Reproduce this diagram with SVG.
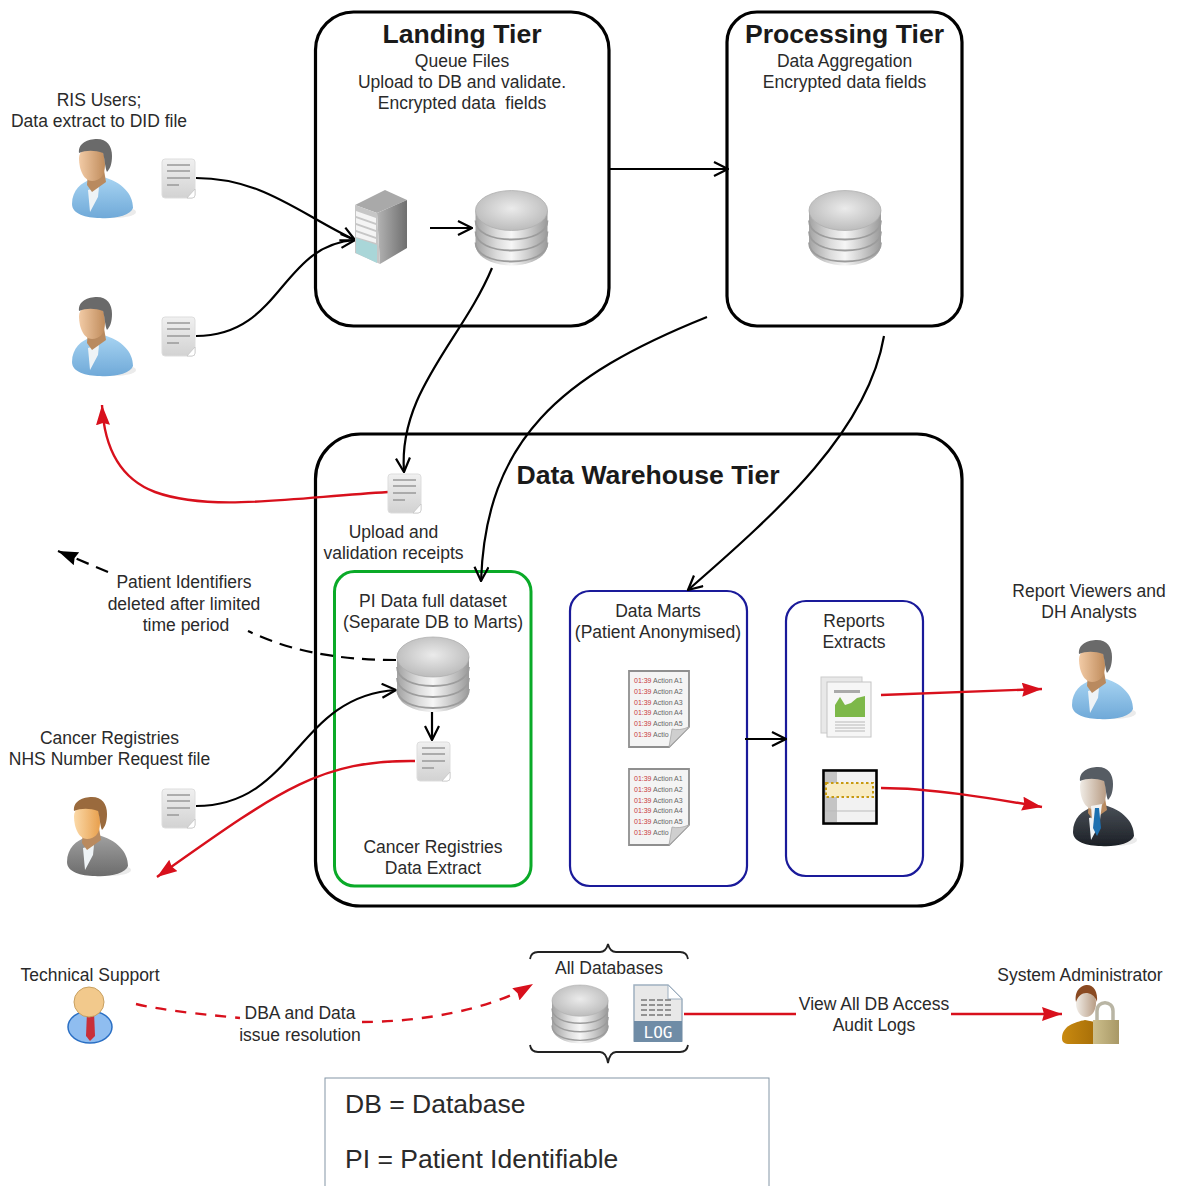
<svg xmlns="http://www.w3.org/2000/svg" width="1178" height="1186" viewBox="0 0 1178 1186">
<style>
text{font-family:"Liberation Sans",Arial,sans-serif;fill:#2a2a2a}
.t{font-size:17.5px;text-anchor:middle}
.h{font-size:26.6px;font-weight:bold;text-anchor:middle;fill:#1a1a1a}
.leg{font-size:26.5px;fill:#2a2a2a}
.tier{fill:#fff;stroke:#000;stroke-width:3.2}
.blue{fill:none;stroke:#1a1a9a;stroke-width:2.2}
.c{fill:none;stroke:#000;stroke-width:2.2}
.r{fill:none;stroke:#d8101c;stroke-width:2.400}
.rd{fill:none;stroke:#d8101c;stroke-width:2.400;stroke-dasharray:11 9}
.k{fill:none;stroke:#000;stroke-width:2.200;stroke-dasharray:13 8}
.br{fill:none;stroke:#222;stroke-width:1.8}
.m{font-size:7px}
.mr{fill:#c8383c}
.mg{fill:#666}
.icon{filter:url(#soft)}
</style>
<defs>
<linearGradient id="gBlue" x1="0" y1="0" x2="0" y2="1"><stop offset="0" stop-color="#a8d4f2"/><stop offset="1" stop-color="#6fa9d8"/></linearGradient>
<linearGradient id="gGrey" x1="0" y1="0" x2="0" y2="1"><stop offset="0" stop-color="#a0a0a0"/><stop offset="1" stop-color="#6c6c6c"/></linearGradient>
<linearGradient id="gSuit" x1="0" y1="0" x2="0" y2="1"><stop offset="0" stop-color="#4a5058"/><stop offset="1" stop-color="#1c2026"/></linearGradient>
<linearGradient id="gFace" x1="0" y1="0" x2="1" y2="0"><stop offset="0" stop-color="#f2cba6"/><stop offset="1" stop-color="#c08c5c"/></linearGradient>
<linearGradient id="gFace2" x1="0" y1="0" x2="1" y2="0"><stop offset="0" stop-color="#fbd9a8"/><stop offset="1" stop-color="#e8a04e"/></linearGradient>
<linearGradient id="gFace3" x1="0" y1="0" x2="1" y2="0"><stop offset="0" stop-color="#f0ece6"/><stop offset="1" stop-color="#b89c84"/></linearGradient>
<linearGradient id="gDb" x1="0" y1="0" x2="1" y2="0"><stop offset="0" stop-color="#a2a2a2"/><stop offset=".3" stop-color="#dcdcdc"/><stop offset=".5" stop-color="#f6f6f6"/><stop offset=".72" stop-color="#cfcfcf"/><stop offset="1" stop-color="#9a9a9a"/></linearGradient>
<radialGradient id="gDbTop" cx=".5" cy=".45" r=".6"><stop offset="0" stop-color="#ebebeb"/><stop offset="1" stop-color="#b8b8b8"/></radialGradient>
<linearGradient id="gDoc" x1="0" y1="0" x2="0" y2="1"><stop offset="0" stop-color="#f0f0f0"/><stop offset="1" stop-color="#d2d2d2"/></linearGradient>
<linearGradient id="gSrv" x1="0" y1="0" x2="1" y2="0"><stop offset="0" stop-color="#b4b4b4"/><stop offset="1" stop-color="#6e6e6e"/></linearGradient>
<linearGradient id="gLock" x1="0" y1="0" x2="1" y2="0"><stop offset="0" stop-color="#cdbf8c"/><stop offset="1" stop-color="#a89866"/></linearGradient>
<linearGradient id="gOr" x1="0" y1="0" x2="1" y2="0"><stop offset="0" stop-color="#c98a10"/><stop offset="1" stop-color="#a86f08"/></linearGradient>
<filter id="soft" x="-10%" y="-10%" width="120%" height="120%"><feGaussianBlur stdDeviation=".5"/></filter>
<marker id="open" viewBox="0 0 16 16" refX="15" refY="8" markerWidth="16" markerHeight="16" markerUnits="userSpaceOnUse" orient="auto"><path d="M1,1 L15,8 L1,15" fill="none" stroke="#000" stroke-width="2.200"/></marker>
<marker id="red" viewBox="0 0 20 14" refX="20" refY="7" markerWidth="20" markerHeight="14" markerUnits="userSpaceOnUse" orient="auto"><path d="M0,0 L20,7 L0,14 L2,7 Z" fill="#d8101c"/></marker>
<marker id="blk" viewBox="0 0 20 14" refX="20" refY="7" markerWidth="20" markerHeight="14" markerUnits="userSpaceOnUse" orient="auto"><path d="M0,0 L20,7 L0,14 L2,7 Z" fill="#000"/></marker>
<g id="person">
<ellipse cx="114" cy="212" rx="22" ry="6" fill="#e2e2e2" opacity=".7"/>
<path d="M72,204 C72,190 82,182 90,180 L103,177 C122,182 133,194 133,208 C130,216 114,219 100,218 C86,218 72,214 72,204Z" style="fill:var(--body)"/>
<path d="M88,190 L99,187 L98,197 L90,212 Z" fill="#eef3f6"/>
<path d="M88,172 L104,170 L106,182 L92,192 L87,185Z" fill="#b98a5e"/>
<path d="M79,158 C79,150 87,147 95,147 C103,147 105,156 105,165 C105,176 99,181 92,181 C84,181 79,170 79,158Z" style="fill:var(--face)"/>
<path d="M79,153 C78,143 88,139 97,139 C107,139 112,146 112,156 C112,164 110,169 107,172 C105,168 105,160 103,153 C95,150 86,150 79,153Z" style="fill:var(--hair)"/>
</g>
<g id="doc">
<rect x="0" y="0" width="33" height="39" rx="3" fill="url(#gDoc)" stroke="#ddd"/>
<path d="M5,6H28M5,12H28M5,19H28M5,26H17" stroke="#999" stroke-width="1.3"/>
<path d="M33,30 L33,36 Q33,39 30,39 L25,39 Z" fill="#fff" stroke="#bbb" stroke-width=".6"/>
</g>
<g id="db">
<path d="M0,20 V54 C0,66 16,75 36,75 C56,75 72,66 72,54 V20 Z" fill="url(#gDb)"/>
<path d="M0,30 C0,42 16,49 36,49 C56,49 72,42 72,30 M0,41 C0,53 16,60 36,60 C56,60 72,53 72,41 M0,52 C0,64 16,71 36,71 C56,71 72,64 72,52" fill="none" stroke="#9c9c9c" stroke-width="1.800"/>
<ellipse cx="36" cy="20" rx="36" ry="20" fill="url(#gDbTop)" stroke="#b0b0b0" stroke-width=".8"/>
</g>
<g id="mdoc">
<path d="M0,0 H60 V56 L40,76 H0 Z" fill="#f4f4f4" stroke="#8f8f8f" stroke-width="1.800"/>
<path d="M40,76 L43,58 Q50,60 60,56 Z" fill="#cfcfcf" stroke="#aaa" stroke-width=".8"/>
<text class="m" x="5" y="12"><tspan class="mr">01:39</tspan><tspan class="mg"> Action A1</tspan></text>
<text class="m" x="5" y="23"><tspan class="mr">01:39</tspan><tspan class="mg"> Action A2</tspan></text>
<text class="m" x="5" y="34"><tspan class="mr">01:39</tspan><tspan class="mg"> Action A3</tspan></text>
<text class="m" x="5" y="44"><tspan class="mr">01:39</tspan><tspan class="mg"> Action A4</tspan></text>
<text class="m" x="5" y="55"><tspan class="mr">01:39</tspan><tspan class="mg"> Action A5</tspan></text>
<text class="m" x="5" y="66"><tspan class="mr">01:39</tspan><tspan class="mg"> Actio</tspan></text>
</g>
</defs>
<rect width="1178" height="1186" fill="#fff"/>

<g id="landing-tier">
<rect class="tier" x="315.500" y="12" width="293.500" height="314" rx="38"/>
<text class="h" x="462" y="42.500">Landing Tier</text>
<text class="t" x="462" y="67">Queue Files</text>
<text class="t" x="462" y="88">Upload to DB and validate.</text>
<text class="t" x="462" y="109" xml:space="preserve">Encrypted data  fields</text>
</g>
<g id="processing-tier">
<rect class="tier" x="727" y="12" width="235" height="314" rx="30"/>
<text class="h" x="844.500" y="42.500">Processing Tier</text>
<text class="t" x="844.500" y="67">Data Aggregation</text>
<text class="t" x="844.500" y="88">Encrypted data fields</text>
</g>
<g id="warehouse-tier">
<rect class="tier" x="315.500" y="434" width="646.500" height="472" rx="45"/>
<text class="h" x="648" y="483.500">Data Warehouse Tier</text>
</g>
<g id="pi-box">
<rect x="334.500" y="571.500" width="196.500" height="314.500" rx="20" fill="none" stroke="#0aaa28" stroke-width="3"/>
<text class="t" x="433" y="607">PI Data full dataset</text>
<text class="t" x="433" y="628">(Separate DB to Marts)</text>
<text class="t" x="433" y="853">Cancer Registries</text>
<text class="t" x="433" y="874">Data Extract</text>
</g>
<g id="marts-box">
<rect class="blue" x="570" y="591" width="177" height="295" rx="20"/>
<text class="t" x="658" y="617">Data Marts</text>
<text class="t" x="658" y="638">(Patient Anonymised)</text>
</g>
<g id="reports-box">
<rect class="blue" x="786" y="601" width="137" height="275" rx="20"/>
<text class="t" x="854" y="627">Reports</text>
<text class="t" x="854" y="648">Extracts</text>
</g>

<g id="connectors">
<path class="c" marker-end="url(#open)" d="M196,178 C262,178 300,214 355,240"/>
<path class="c" marker-end="url(#open)" d="M196,336 C282,336 280,245 355,240"/>
<path class="c" marker-end="url(#open)" d="M430,228 H472"/>
<path class="c" marker-end="url(#open)" d="M609,169 H728"/>
<path class="c" marker-end="url(#open)" d="M492,268 C462,340 398,392 404,472"/>
<path class="c" marker-end="url(#open)" d="M707,317 C560,376 486,440 481,581"/>
<path class="c" marker-end="url(#open)" d="M884,336 C868,430 780,510 688,590"/>
<path class="r" marker-end="url(#red)" d="M388,492 C290,498 210,512 155,492 C118,478 104,445 102,405"/>
<path class="k" d="M396,660 C340,660 292,652 248,631"/>
<path class="k" marker-end="url(#blk)" d="M108,572 L58,551"/>
<path class="c" marker-end="url(#open)" d="M196,806 C296,806 296,696 396,690"/>
<path class="c" marker-end="url(#open)" d="M432,712 V740"/>
<path class="r" marker-end="url(#red)" d="M415,761 C320,760 280,790 157,877"/>
<path class="c" marker-end="url(#open)" d="M745,739 H786"/>
<path class="r" marker-end="url(#red)" d="M881,695 L1042,689"/>
<path class="r" marker-end="url(#red)" d="M881,788 C930,788 990,798 1042,807"/>
<path class="rd" d="M136,1004 C165,1011 210,1015 240,1018"/>
<path class="rd" marker-end="url(#red)" d="M362,1022 C420,1022 490,1010 533,984"/>
<path class="r" d="M684,1014 H796"/>
<path class="r" marker-end="url(#red)" d="M951,1014 H1062"/>
</g>

<g id="ris-user-1">
<use class="icon" href="#person" style="--body:url(#gBlue);--face:url(#gFace);--hair:#6b6b6b"/>
<use class="icon" href="#doc" x="162" y="159"/>
<text class="t" x="99" y="106">RIS Users;</text>
<text class="t" x="99" y="127">Data extract to DID file</text>
</g>
<g id="ris-user-2">
<use class="icon" href="#person" y="158" style="--body:url(#gBlue);--face:url(#gFace);--hair:#6b6b6b"/>
<use class="icon" href="#doc" x="162" y="317"/>
</g>
<g id="server" class="icon">
<path d="M355,205 L385,190 L407,200 L377,213 Z" fill="#a9a9a9"/>
<path d="M377,213 L407,200 V248 L380,264 Z" fill="url(#gSrv)"/>
<path d="M355,205 L377,213 L380,264 L355,253 Z" fill="#c6c6c6"/>
<path d="M356,211 L376,218 V223 L356,216Z M356,218 L376,225 V230 L356,223Z M356,225 L376,232 V237 L356,230Z M356,232 L376,239 V243 L356,237Z" fill="#f4f4f4"/>
<path d="M356,238 L377,245 V263 L356,253Z" fill="#a9d6d8"/>
</g>
<g id="db-landing"><use class="icon" href="#db" transform="translate(475.500,190.500)"/></g>
<g id="db-processing"><use class="icon" href="#db" transform="translate(809,190.500)"/></g>
<g id="db-pi"><use class="icon" href="#db" transform="translate(397,637)"/></g>
<g id="receipts">
<use class="icon" href="#doc" x="388" y="474"/>
<text class="t" x="393.500" y="538">Upload and</text>
<text class="t" x="393.500" y="559">validation receipts</text>
</g>
<g id="pi-note">
<text class="t" x="184" y="588">Patient Identifiers</text>
<text class="t" x="184" y="610">deleted after limited</text>
<text class="t" x="186" y="631">time period</text>
</g>
<g id="cancer-extract"><use class="icon" href="#doc" x="417" y="742"/></g>
<g id="cancer-registries">
<text class="t" x="109.500" y="744">Cancer Registries</text>
<text class="t" x="109.500" y="765">NHS Number Request file</text>
<use class="icon" href="#person" transform="translate(-5,658)" style="--body:url(#gGrey);--face:url(#gFace2);--hair:#9a6a3c"/>
<use class="icon" href="#doc" x="162" y="789"/>
</g>
<g id="mart-doc-1"><use href="#mdoc" x="629" y="671"/></g>
<g id="mart-doc-2"><use href="#mdoc" x="629" y="769"/></g>
<g id="report-icon" class="icon">
<rect x="821" y="677" width="41" height="56" fill="#e8e8e8" stroke="#ccc"/>
<rect x="827" y="682" width="44" height="55" fill="#f6f6f6" stroke="#c4c4c4"/>
<rect x="834" y="690" width="26" height="3" fill="#aaa"/>
<path d="M835,717 V705 L840,697 L845,705 L851,703 L857,698 L865,696 V717 Z" fill="#7db84a"/>
<path d="M835,722H865M835,725H865M835,728H865M835,731H865" stroke="#aaa" stroke-width=".8"/>
</g>
<g id="table-icon">
<rect x="823.500" y="770.500" width="53" height="53" fill="#f2f2f2" stroke="#000" stroke-width="2.600"/>
<rect x="825" y="772" width="12" height="50" fill="#c4c4c4"/>
<path d="M825,811H875" stroke="#bbb"/>
<rect x="826" y="783" width="47" height="14" fill="#f8ecc4" stroke="#c79a10" stroke-width="2" stroke-dasharray="2.500 2.500"/>
</g>
<g id="report-viewers">
<text class="t" x="1089" y="597">Report Viewers and</text>
<text class="t" x="1089" y="618">DH Analysts</text>
<use class="icon" href="#person" transform="translate(1000,501)" style="--body:url(#gBlue);--face:url(#gFace);--hair:#6b6b6b"/>
</g>
<g id="manager" class="icon">
<use href="#person" transform="translate(1001,628)" style="--body:url(#gSuit);--face:url(#gFace3);--hair:#565c64"/>
<path d="M1091,806 L1102,804 L1100,820 L1096,826 L1092,820Z" fill="#f2f2f2"/>
<path d="M1095,808 L1099,808 L1101,828 L1097,836 L1093,828Z" fill="#1e6fb0"/>
</g>
<g id="technical-support">
<text class="t" x="90" y="981">Technical Support</text>
<ellipse cx="90" cy="1027" rx="22" ry="16" fill="#8fbdf0" stroke="#2a6fc4" stroke-width="1.500"/>
<path d="M87,1012 H94 L95,1036 L90,1041 L86,1036Z" fill="#c8303a"/>
<circle cx="89" cy="1002" r="15" fill="#f2c98c" stroke="#c8a060"/>
</g>
<g id="dba-label">
<text class="t" x="300" y="1019">DBA and Data</text>
<text class="t" x="300" y="1041">issue resolution</text>
</g>
<g id="all-databases">
<path class="br" d="M530,959 Q531,952 538,952 H600 Q606,952 608,944 Q610,952 616,952 H680 Q687,952 688,959"/>
<text class="t" x="609" y="974">All Databases</text>
<use class="icon" href="#db" transform="translate(552,985) scale(.78)"/>
<path d="M634,985 H668 L682,999 V1041 H634 Z" fill="#e8e8e8" stroke="#9fb0c0" stroke-width="1.500"/>
<path d="M668,985 V999 H682 Z" fill="#fff" stroke="#9fb0c0"/>
<path d="M641,1000H672M641,1005H672M641,1010H672M641,1015H672" stroke="#777" stroke-width="1.500" stroke-dasharray="6 2"/>
<rect x="634" y="1021" width="48" height="21" fill="#6f8ca6"/>
<text x="658" y="1038" text-anchor="middle" style="font-family:'DejaVu Sans Mono','Liberation Mono',monospace;font-size:16px;fill:#fff">LOG</text>
<path class="br" d="M530,1045 Q531,1052 538,1052 H600 Q606,1052 608,1063 Q610,1052 616,1052 H680 Q687,1052 688,1045"/>
</g>
<g id="audit-label">
<text class="t" x="874" y="1010">View All DB Access</text>
<text class="t" x="874" y="1031">Audit Logs</text>
</g>
<g id="system-administrator">
<text class="t" x="1080" y="981">System Administrator</text>
<path d="M1062,1038 C1062,1026 1075,1022 1085,1020 L1095,1022 V1044 H1070 C1064,1044 1062,1042 1062,1038Z" fill="url(#gOr)"/>
<ellipse cx="1086" cy="1003" rx="10" ry="14" fill="url(#gFace3)"/>
<path d="M1076,1002 C1074,990 1082,985 1087,985 C1094,985 1098,992 1097,1002 C1095,995 1090,993 1086,993 C1082,993 1078,996 1076,1002Z" fill="#8a4a22"/>
<path d="M1097,1020 V1011 C1097,1000 1113,1000 1113,1011 V1020" fill="none" stroke="#b9b5a4" stroke-width="3.500"/>
<rect x="1093" y="1020" width="26" height="24" fill="url(#gLock)"/>
</g>
<g id="legend">
<rect x="325" y="1078" width="444" height="120" fill="#fff" stroke="#8496a6" stroke-width="1"/>
<text class="leg" x="345" y="1113">DB = Database</text>
<text class="leg" x="345" y="1168">PI = Patient Identifiable</text>
</g>
</svg>
